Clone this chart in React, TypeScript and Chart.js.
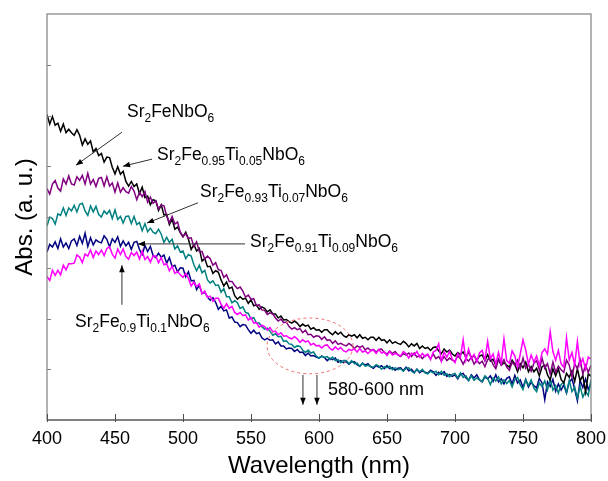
import { useEffect, useRef } from 'react';
import { Chart, registerables } from 'chart.js';

Chart.register(...registerables);

const WAVELENGTHS = [
  400, 402, 404, 406, 408, 410, 412, 414, 416, 418, 420, 422, 424, 426, 428, 430, 432, 434, 436, 438,
  440, 442, 444, 446, 448, 450, 452, 454, 456, 458, 460, 462, 464, 466, 468, 470, 472, 474, 476, 478,
  480, 482, 484, 486, 488, 490, 492, 494, 496, 498, 500, 502, 504, 506, 508, 510, 512, 514, 516, 518,
  520, 522, 524, 526, 528, 530, 532, 534, 536, 538, 540, 542, 544, 546, 548, 550, 552, 554, 556, 558,
  560, 562, 564, 566, 568, 570, 572, 574, 576, 578, 580, 582, 584, 586, 588, 590, 592, 594, 596, 598,
  600, 602, 604, 606, 608, 610, 612, 614, 616, 618, 620, 622, 624, 626, 628, 630, 632, 634, 636, 638,
  640, 642, 644, 646, 648, 650, 652, 654, 656, 658, 660, 662, 664, 666, 668, 670, 672, 674, 676, 678,
  680, 682, 684, 686, 688, 690, 692, 694, 696, 698, 700, 702, 704, 706, 708, 710, 712, 714, 716, 718,
  720, 722, 724, 726, 728, 730, 732, 734, 736, 738, 740, 742, 744, 746, 748, 750, 752, 754, 756, 758,
  760, 762, 764, 766, 768, 770, 772, 774, 776, 778, 780, 782, 784, 786, 788, 790, 792, 794, 796, 798,
  800,
];

const SR2FENBO6 = [
  6.02, 5.83, 5.98, 5.81, 5.85, 5.69, 5.83, 5.66, 5.73, 5.66,
  5.61, 5.72, 5.61, 5.42, 5.54, 5.43, 5.50, 5.28, 5.35, 5.21,
  5.25, 5.08, 5.18, 5.17, 4.98, 4.85, 4.99, 4.84, 4.90, 4.70,
  4.61, 4.70, 4.60, 4.65, 4.46, 4.59, 4.38, 4.41, 4.24, 4.34,
  4.32, 4.13, 4.24, 4.04, 4.05, 3.85, 3.96, 3.76, 3.80, 3.69,
  3.61, 3.70, 3.56, 3.36, 3.46, 3.33, 3.38, 3.13, 3.18, 3.02,
  3.03, 2.89, 2.94, 2.91, 2.76, 2.64, 2.72, 2.59, 2.62, 2.45,
  2.38, 2.43, 2.38, 2.40, 2.30, 2.37, 2.25, 2.27, 2.18, 2.23,
  2.20, 2.13, 2.17, 2.09, 2.09, 2.01, 2.05, 1.97, 1.98, 1.94,
  1.91, 1.95, 1.91, 1.84, 1.89, 1.85, 1.87, 1.79, 1.82, 1.77,
  1.78, 1.73, 1.78, 1.78, 1.72, 1.68, 1.74, 1.69, 1.73, 1.66,
  1.63, 1.68, 1.65, 1.68, 1.62, 1.68, 1.61, 1.63, 1.58, 1.63,
  1.63, 1.57, 1.63, 1.57, 1.58, 1.52, 1.58, 1.51, 1.54, 1.51,
  1.49, 1.55, 1.51, 1.44, 1.50, 1.46, 1.51, 1.41, 1.46, 1.41,
  1.43, 1.37, 1.43, 1.44, 1.36, 1.31, 1.40, 1.34, 1.38, 1.30,
  1.26, 1.33, 1.29, 1.34, 1.24, 1.34, 1.23, 1.27, 1.18, 1.26,
  1.28, 1.17, 1.29, 1.16, 1.20, 1.08, 1.20, 1.08, 1.13, 1.08,
  1.04, 1.18, 1.10, 0.95, 1.11, 1.03, 1.14, 0.95, 1.05, 0.95,
  1.02, 0.87, 1.05, 1.08, 0.89, 0.79, 1.01, 0.87, 1.01, 0.80,
  0.73, 0.92, 0.84, 0.97, 0.76, 1.01, 0.77, 0.88, 0.55, 0.91,
  0.86,
];

const TI_005 = [
  4.56, 4.45, 4.65, 4.72, 4.57, 4.51, 4.75, 4.65, 4.81, 4.65,
  4.63, 4.79, 4.72, 4.82, 4.65, 4.86, 4.65, 4.74, 4.60, 4.76,
  4.78, 4.61, 4.79, 4.61, 4.67, 4.49, 4.67, 4.49, 4.58, 4.50,
  4.47, 4.60, 4.51, 4.34, 4.49, 4.40, 4.50, 4.29, 4.39, 4.27,
  4.32, 4.16, 4.24, 4.22, 4.02, 3.89, 4.01, 3.86, 3.90, 3.70,
  3.62, 3.67, 3.58, 3.59, 3.42, 3.51, 3.32, 3.32, 3.17, 3.23,
  3.18, 3.05, 3.10, 2.96, 2.95, 2.81, 2.86, 2.73, 2.73, 2.65,
  2.59, 2.62, 2.54, 2.42, 2.46, 2.38, 2.39, 2.25, 2.27, 2.17,
  2.16, 2.08, 2.11, 2.09, 2.01, 1.95, 1.99, 1.92, 1.93, 1.84,
  1.79, 1.82, 1.78, 1.80, 1.72, 1.77, 1.68, 1.69, 1.63, 1.66,
  1.65, 1.59, 1.64, 1.57, 1.58, 1.51, 1.56, 1.49, 1.51, 1.48,
  1.46, 1.51, 1.47, 1.41, 1.46, 1.43, 1.46, 1.38, 1.42, 1.37,
  1.39, 1.34, 1.39, 1.40, 1.33, 1.30, 1.36, 1.31, 1.35, 1.28,
  1.25, 1.31, 1.28, 1.32, 1.25, 1.32, 1.24, 1.27, 1.21, 1.27,
  1.28, 1.21, 1.30, 1.21, 1.25, 1.16, 1.25, 1.17, 1.22, 1.18,
  1.16, 1.26, 1.21, 1.10, 1.21, 1.16, 1.24, 1.10, 1.18, 1.11,
  1.16, 1.05, 1.19, 1.22, 1.09, 1.01, 1.19, 1.09, 1.19, 1.04,
  0.98, 1.14, 1.08, 1.18, 1.01, 1.22, 1.02, 1.10, 0.96, 1.12,
  1.17, 0.99, 1.22, 1.02, 1.11, 0.91, 1.14, 0.94, 1.06, 0.99,
  0.94, 1.18, 1.08, 0.85, 1.11, 1.01, 1.19, 0.91, 1.08, 0.94,
  1.08,
];

const TI_007 = [
  3.82, 4.00, 3.97, 3.86, 4.06, 4.03, 4.18, 4.03, 4.18, 4.12,
  4.23, 4.10, 4.25, 4.27, 4.12, 4.03, 4.22, 4.10, 4.21, 4.05,
  4.00, 4.12, 4.06, 4.13, 3.97, 4.14, 3.95, 4.01, 3.88, 4.01,
  4.02, 3.87, 4.01, 3.85, 3.89, 3.73, 3.87, 3.71, 3.78, 3.70,
  3.67, 3.76, 3.66, 3.50, 3.60, 3.50, 3.56, 3.37, 3.43, 3.31,
  3.33, 3.18, 3.26, 3.23, 3.06, 2.94, 3.05, 2.90, 2.95, 2.76,
  2.70, 2.74, 2.65, 2.66, 2.52, 2.59, 2.43, 2.43, 2.31, 2.35,
  2.31, 2.20, 2.23, 2.12, 2.10, 1.99, 2.02, 1.91, 1.91, 1.84,
  1.79, 1.81, 1.75, 1.67, 1.70, 1.64, 1.65, 1.55, 1.56, 1.50,
  1.49, 1.43, 1.46, 1.45, 1.38, 1.33, 1.38, 1.32, 1.34, 1.26,
  1.22, 1.26, 1.23, 1.25, 1.19, 1.24, 1.17, 1.19, 1.13, 1.17,
  1.17, 1.11, 1.17, 1.11, 1.12, 1.06, 1.12, 1.06, 1.08, 1.05,
  1.04, 1.09, 1.06, 1.00, 1.05, 1.03, 1.06, 0.99, 1.03, 0.99,
  1.01, 0.96, 1.02, 1.03, 0.96, 0.93, 1.00, 0.95, 1.00, 0.93,
  0.91, 0.96, 0.93, 0.96, 0.89, 0.96, 0.88, 0.91, 0.85, 0.90,
  0.92, 0.83, 0.93, 0.84, 0.87, 0.78, 0.87, 0.78, 0.83, 0.79,
  0.76, 0.87, 0.82, 0.70, 0.83, 0.77, 0.85, 0.71, 0.79, 0.72,
  0.78, 0.65, 0.80, 0.84, 0.69, 0.60, 0.79, 0.68, 0.79, 0.63,
  0.56, 0.73, 0.66, 0.77, 0.59, 0.80, 0.59, 0.68, 0.53, 0.70,
  0.74, 0.54, 0.78, 0.56, 0.65, 0.43, 0.67, 0.45, 0.57, 0.48,
  0.80,
];

const TI_009 = [
  3.31, 3.46, 3.41, 3.51, 3.38, 3.57, 3.41, 3.49, 3.38, 3.53,
  3.57, 3.44, 3.62, 3.48, 3.68, 3.42, 3.59, 3.45, 3.55, 3.51,
  3.49, 3.63, 3.56, 3.41, 3.57, 3.50, 3.61, 3.42, 3.53, 3.43,
  3.50, 3.36, 3.50, 3.52, 3.36, 3.26, 3.44, 3.32, 3.42, 3.24,
  3.20, 3.29, 3.21, 3.25, 3.09, 3.20, 3.02, 3.05, 2.92, 3.00,
  2.99, 2.82, 2.92, 2.74, 2.75, 2.57, 2.66, 2.49, 2.52, 2.42,
  2.36, 2.41, 2.32, 2.18, 2.24, 2.15, 2.17, 2.01, 2.03, 1.93,
  1.92, 1.84, 1.88, 1.87, 1.78, 1.71, 1.77, 1.70, 1.72, 1.62,
  1.58, 1.61, 1.57, 1.58, 1.50, 1.54, 1.46, 1.46, 1.40, 1.42,
  1.41, 1.35, 1.39, 1.33, 1.34, 1.27, 1.32, 1.26, 1.27, 1.24,
  1.22, 1.26, 1.23, 1.17, 1.22, 1.19, 1.22, 1.14, 1.17, 1.13,
  1.15, 1.10, 1.15, 1.15, 1.09, 1.06, 1.12, 1.08, 1.11, 1.05,
  1.02, 1.07, 1.04, 1.07, 1.01, 1.07, 1.01, 1.03, 0.98, 1.02,
  1.03, 0.97, 1.04, 0.97, 1.00, 0.93, 1.00, 0.93, 0.97, 0.94,
  0.92, 0.98, 0.95, 0.88, 0.94, 0.90, 0.95, 0.86, 0.90, 0.86,
  0.89, 0.81, 0.90, 0.92, 0.83, 0.78, 0.89, 0.83, 0.89, 0.79,
  0.75, 0.85, 0.81, 0.87, 0.76, 0.89, 0.75, 0.81, 0.71, 0.82,
  0.85, 0.71, 0.88, 0.73, 0.79, 0.64, 0.80, 0.65, 0.74, 0.68,
  0.63, 0.82, 0.73, 0.40, 0.75, 0.66, 0.80, 0.57, 0.71, 0.59,
  0.69, 0.53, 0.75, 0.81, 0.61, 0.38, 0.78, 0.64, 0.81, 0.60,
  0.72,
];

const TI_01 = [
  2.83, 2.75, 2.95, 2.85, 2.95, 2.86, 3.05, 2.96, 3.08, 3.08,
  3.09, 3.25, 3.21, 3.10, 3.27, 3.23, 3.35, 3.20, 3.33, 3.26,
  3.35, 3.24, 3.38, 3.41, 3.27, 3.19, 3.37, 3.26, 3.37, 3.22,
  3.17, 3.30, 3.24, 3.31, 3.17, 3.33, 3.16, 3.22, 3.11, 3.23,
  3.23, 3.10, 3.20, 3.06, 3.08, 2.94, 3.03, 2.89, 2.93, 2.86,
  2.81, 2.89, 2.79, 2.64, 2.72, 2.63, 2.68, 2.49, 2.54, 2.42,
  2.44, 2.34, 2.40, 2.40, 2.28, 2.20, 2.29, 2.20, 2.24, 2.12,
  2.08, 2.12, 2.06, 2.07, 1.97, 2.02, 1.91, 1.92, 1.83, 1.87,
  1.84, 1.77, 1.82, 1.74, 1.75, 1.68, 1.72, 1.65, 1.66, 1.62,
  1.60, 1.64, 1.60, 1.53, 1.58, 1.54, 1.56, 1.48, 1.51, 1.46,
  1.47, 1.42, 1.47, 1.48, 1.41, 1.38, 1.44, 1.39, 1.43, 1.36,
  1.34, 1.39, 1.37, 1.40, 1.34, 1.41, 1.34, 1.36, 1.31, 1.36,
  1.38, 1.31, 1.39, 1.32, 1.34, 1.27, 1.35, 1.28, 1.31, 1.29,
  1.26, 1.35, 1.31, 1.22, 1.32, 1.28, 1.35, 1.24, 1.31, 1.25,
  1.30, 1.19, 1.34, 1.37, 1.50, 1.16, 1.34, 1.24, 1.35, 1.20,
  1.13, 1.31, 1.24, 1.58, 1.18, 1.40, 1.20, 1.29, 1.15, 1.32,
  1.37, 1.18, 1.55, 1.21, 1.30, 1.10, 1.33, 1.12, 1.60, 1.17,
  1.12, 1.36, 1.26, 1.04, 1.30, 1.58, 1.38, 1.10, 1.28, 1.14,
  1.26, 1.07, 1.33, 1.40, 1.30, 1.74, 1.35, 1.18, 1.37, 1.11,
  1.04, 1.62, 1.18, 1.33, 1.08, 1.55, 1.08, 1.21, 1.00, 1.24,
  1.20,
];

const SERIES_NAMES = [
  'Sr2FeNbO6',
  'Sr2Fe0.95Ti0.05NbO6',
  'Sr2Fe0.93Ti0.07NbO6',
  'Sr2Fe0.91Ti0.09NbO6',
  'Sr2Fe0.9Ti0.1NbO6',
];
const SERIES_COLORS = ['#000000', '#800080', '#008080', '#000080', '#ff00ff'];
const SERIES_ORDER = [2, 1, 3, 4, 0];
const SERIES_VALUES = [SR2FENBO6, TI_005, TI_007, TI_009, TI_01];

const X_MIN = 400;
const X_MAX = 800;
const X_STEP = 50;
const Y_MIN = 0;
const Y_MAX = 8;
const Y_STEP = 1;

const FONT = '"Liberation Sans", Arial, Helvetica, sans-serif';

type Part = [string, boolean];
type Label = { parts: Part[]; at: [number, number]; from: [number, number]; to: [number, number] };

const LABELS: Label[] = [
  {
    parts: [['Sr', false], ['2', true], ['FeNbO', false], ['6', true]],
    at: [458.8, 5.97], from: [455.1, 5.67], to: [421.3, 5.02],
  },
  {
    parts: [['Sr', false], ['2', true], ['Fe', false], ['0.95', true], ['Ti', false], ['0.05', true], ['NbO', false], ['6', true]],
    at: [480.9, 5.12], from: [477.2, 5.14], to: [455.9, 5.0],
  },
  {
    parts: [['Sr', false], ['2', true], ['Fe', false], ['0.93', true], ['Ti', false], ['0.07', true], ['NbO', false], ['6', true]],
    at: [512.5, 4.39], from: [511.0, 4.28], to: [473.5, 3.88],
  },
  {
    parts: [['Sr', false], ['2', true], ['Fe', false], ['0.91', true], ['Ti', false], ['0.09', true], ['NbO', false], ['6', true]],
    at: [549.3, 3.41], from: [545.6, 3.47], to: [466.9, 3.47],
  },
  {
    parts: [['Sr', false], ['2', true], ['Fe', false], ['0.9', true], ['Ti', false], ['0.1', true], ['NbO', false], ['6', true]],
    at: [420.6, 1.83], from: [455.1, 2.27], to: [455.1, 3.05],
  },
];

function drawRich(ctx: CanvasRenderingContext2D, parts: Part[], x: number, y: number) {
  let cx = x;
  ctx.textBaseline = 'alphabetic';
  ctx.textAlign = 'left';
  for (const [t, sub] of parts) {
    ctx.font = `${sub ? 12 : 17.5}px ${FONT}`;
    ctx.fillText(t, cx, sub ? y + 5 : y);
    cx += ctx.measureText(t).width;
  }
}

function drawArrow(ctx: CanvasRenderingContext2D, x1: number, y1: number, x2: number, y2: number) {
  ctx.beginPath();
  ctx.moveTo(x1, y1);
  ctx.lineTo(x2, y2);
  ctx.stroke();
  const a = Math.atan2(y2 - y1, x2 - x1);
  const L = 7;
  const W = 2.8;
  const bx = x2 - L * Math.cos(a);
  const by = y2 - L * Math.sin(a);
  ctx.beginPath();
  ctx.moveTo(x2, y2);
  ctx.lineTo(bx + W * Math.sin(a), by - W * Math.cos(a));
  ctx.lineTo(bx - W * Math.sin(a), by + W * Math.cos(a));
  ctx.closePath();
  ctx.fill();
}

const framePlugin = {
  id: 'frameAndNotes',
  afterDatasetsDraw(chart: any) {
    const { ctx, chartArea: a, scales } = chart;
    const xs = scales.x;
    const ys = scales.y;
    ctx.save();
    ctx.strokeStyle = '#808080';
    ctx.lineWidth = 1.2;
    ctx.strokeRect(a.left, a.top, a.right - a.left, a.bottom - a.top);
    ctx.strokeStyle = '#505050';
    ctx.beginPath();
    ctx.moveTo(a.left, a.bottom);
    ctx.lineTo(a.right, a.bottom);
    ctx.stroke();
    ctx.lineWidth = 1;
    ctx.strokeStyle = '#505050';
    for (const t of xs.ticks) {
      const px = Math.round(xs.getPixelForValue(t.value)) + 0.5;
      ctx.beginPath();
      ctx.moveTo(px, a.bottom + 2);
      ctx.lineTo(px, a.bottom - 6);
      ctx.stroke();
    }
    ctx.strokeStyle = '#808080';
    for (const t of ys.ticks) {
      if (t.value <= Y_MIN || t.value >= Y_MAX) continue;
      const py = Math.round(ys.getPixelForValue(t.value)) + 0.5;
      ctx.beginPath();
      ctx.moveTo(a.left, py);
      ctx.lineTo(a.left + 4, py);
      ctx.stroke();
    }
    ctx.fillStyle = '#000000';
    ctx.strokeStyle = '#303030';
    ctx.lineWidth = 1;
    for (const lab of LABELS) {
      drawArrow(
        ctx,
        xs.getPixelForValue(lab.from[0]), ys.getPixelForValue(lab.from[1]),
        xs.getPixelForValue(lab.to[0]), ys.getPixelForValue(lab.to[1]),
      );
      drawRich(ctx, lab.parts, xs.getPixelForValue(lab.at[0]), ys.getPixelForValue(lab.at[1]));
    }
    const ecx = xs.getPixelForValue(593.4);
    const ecy = ys.getPixelForValue(1.46);
    const erx = xs.getPixelForValue(593.4 + 31.6) - ecx;
    const ery = ys.getPixelForValue(1.46) - ys.getPixelForValue(1.46 + 0.55);
    ctx.save();
    ctx.strokeStyle = '#f06a6a';
    ctx.setLineDash([3, 3]);
    ctx.lineWidth = 1;
    ctx.beginPath();
    ctx.ellipse(ecx, ecy, erx, ery, 0, 0, Math.PI * 2);
    ctx.stroke();
    ctx.restore();
    ctx.strokeStyle = '#303030';
    for (const wl of [588.2, 598.5]) {
      const px = xs.getPixelForValue(wl);
      drawArrow(ctx, px, ys.getPixelForValue(0.89), px, ys.getPixelForValue(0.3));
    }
    ctx.font = `18px ${FONT}`;
    ctx.textBaseline = 'alphabetic';
    ctx.textAlign = 'left';
    ctx.fillText('580-600 nm', xs.getPixelForValue(606.6), ys.getPixelForValue(0.49));
    ctx.restore();
  },
};

export default function App() {
  const canvasRef = useRef<HTMLCanvasElement | null>(null);

  useEffect(() => {
    const canvas = canvasRef.current;
    if (!canvas) return;
    const datasets = SERIES_VALUES.map((vals, i) => ({
      label: SERIES_NAMES[i],
      data: WAVELENGTHS.map((w, j) => ({ x: w, y: vals[j] })),
      borderColor: SERIES_COLORS[i],
      backgroundColor: SERIES_COLORS[i],
      borderWidth: 1.5,
      pointRadius: 0,
      tension: 0,
      fill: false,
      order: SERIES_ORDER[i],
    }));
    const chart = new Chart(canvas, {
      type: 'line',
      data: { datasets },
      options: {
        animation: false,
        responsive: false,
        devicePixelRatio: 1,
        layout: { padding: { top: 14, right: 17, left: 0, bottom: 0 } },
        plugins: { legend: { display: false }, tooltip: { enabled: false } },
        scales: {
          x: {
            type: 'linear',
            min: X_MIN,
            max: X_MAX,
            ticks: {
              stepSize: X_STEP,
              color: '#000000',
              font: { family: FONT, size: 18 },
              padding: 8,
              maxRotation: 0,
            },
            grid: { display: false, drawTicks: false },
            border: { display: false },
            title: {
              display: true,
              text: 'Wavelength (nm)',
              color: '#000000',
              font: { family: FONT, size: 24 },
              padding: { top: 0, bottom: 0 },
            },
            afterFit: (scale: any) => {
              scale.height = 61;
              scale.paddingLeft = 0;
              scale.paddingRight = 0;
            },
          },
          y: {
            min: Y_MIN,
            max: Y_MAX,
            ticks: { stepSize: Y_STEP, display: false },
            grid: { display: false, drawTicks: false },
            border: { display: false },
            title: {
              display: true,
              text: 'Abs. (a. u.)',
              color: '#000000',
              font: { family: FONT, size: 24 },
              padding: { top: 11, bottom: 0 },
            },
            afterFit: (scale: any) => {
              scale.width = 47;
            },
          },
        },
      },
      plugins: [framePlugin],
    });
    return () => chart.destroy();
  }, []);

  return (
    <div style={{ position: 'fixed', left: 0, top: 0, width: 608, height: 481, background: '#ffffff' }}>
      <canvas ref={canvasRef} width={608} height={481} />
    </div>
  );
}
